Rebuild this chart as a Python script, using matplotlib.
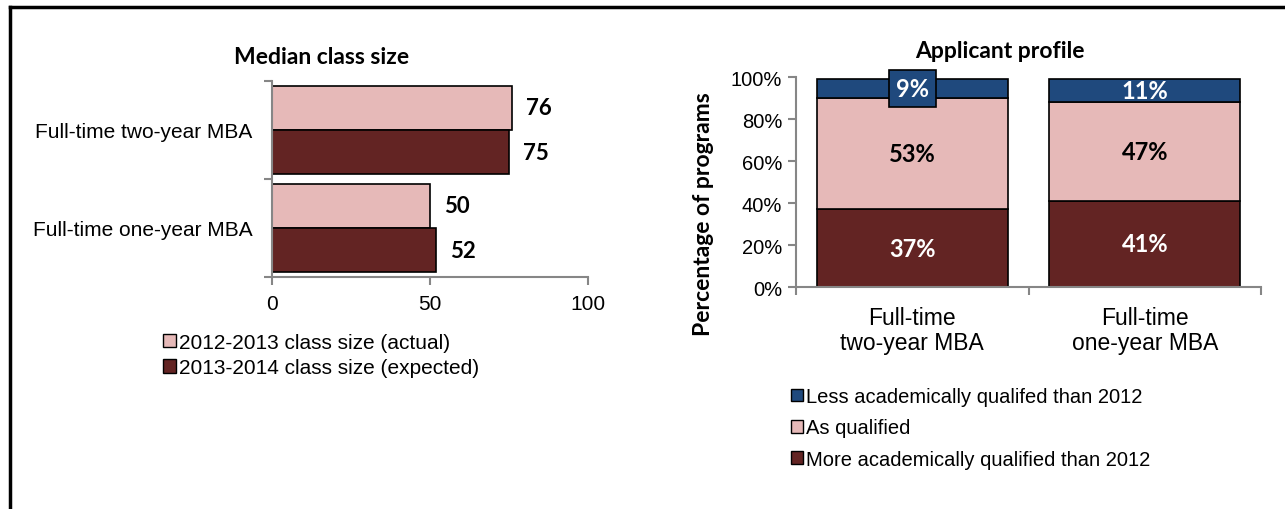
import numpy as np
import matplotlib.pyplot as plt
from matplotlib.lines import Line2D
from matplotlib.patches import Patch

# median class size
programs = ["Full-time two-year MBA", "Full-time one-year MBA"]
size_2012 = [76, 50]
size_2013 = [75, 52]
size_labels = ["2012-2013 class size (actual)", "2013-2014 class size (expected)"]

# applicant profile (% of programs)
profile_cats = ["Full-time\ntwo-year MBA", "Full-time\none-year MBA"]
more_qual = [37, 41]
as_qual = [53, 47]
less_qual = [9, 11]
profile_labels = ["Less academically qualifed than 2012", "As qualified",
                  "More academically qualified than 2012"]

DARK = "#632423"
PINK = "#E6B9B8"
BLUE = "#1F497D"
GRAY = "#868686"
BODY = "Liberation Sans"
HEAD = "Lato"

W, H = 1285, 510
fig = plt.figure(figsize=(W / 100, H / 100), dpi=100)
fig.patch.set_facecolor("white")

def box(l, t, r, b):
    return [l / W, 1 - b / H, (r - l) / W, (b - t) / H]

# page frame (top and left rules)
fig.add_artist(Line2D([10 / W, 1], [1 - 8 / H] * 2, color="black", lw=2.5))
fig.add_artist(Line2D([10 / W] * 2, [0, 1 - 8 / H], color="black", lw=2.5))

def style_axis(ax):
    for s in ["top", "right"]:
        ax.spines[s].set_visible(False)
    for s in ["left", "bottom"]:
        ax.spines[s].set_color(GRAY)
        ax.spines[s].set_linewidth(1.5)

# ---- left: horizontal bars ----
ax1 = fig.add_axes(box(272, 82, 588, 278))
y = np.arange(len(programs))
h = 0.45
ax1.barh(y - h / 2, size_2012, height=h, color=PINK, edgecolor="black", lw=1.2)
ax1.barh(y + h / 2, size_2013, height=h, color=DARK, edgecolor="black", lw=1.2)
for i in range(len(programs)):
    ax1.text(size_2012[i] + 4.5, y[i] - h / 2, str(size_2012[i]), va="center",
             ha="left", fontsize=16, fontweight="bold", family=HEAD)
    ax1.text(size_2013[i] + 4.5, y[i] + h / 2, str(size_2013[i]), va="center",
             ha="left", fontsize=16, fontweight="bold", family=HEAD)
ax1.set_xlim(0, 100)
ax1.set_ylim(1.5, -0.5)
ax1.set_xticks([0, 50, 100])
ax1.set_yticks(y)
ax1.set_yticklabels(programs)
ax1.set_yticks([-0.5, 0.5, 1.5], minor=True)
ax1.tick_params(axis="y", which="major", length=0, pad=14)
ax1.tick_params(axis="y", which="minor", length=6, color=GRAY, width=1.5)
ax1.tick_params(axis="x", length=6, color=GRAY, width=1.5, pad=6)
for t in ax1.get_xticklabels() + ax1.get_yticklabels():
    t.set_fontsize(15)
    t.set_family(BODY)
style_axis(ax1)
fig.text(322 / W, 1 - 58 / H, "Median class size", ha="center", va="center",
         fontsize=16.5, fontweight="bold", family=HEAD)

h1 = [Patch(facecolor=PINK, edgecolor="black", lw=1),
      Patch(facecolor=DARK, edgecolor="black", lw=1)]
fig.legend(h1, size_labels, loc="upper left", bbox_to_anchor=(163 / W, 1 - 334 / H),
           frameon=False, handlelength=0.6, handleheight=0.6, handletextpad=0.15,
           labelspacing=0.3, borderpad=0, borderaxespad=0,
           prop={"family": BODY, "size": 15})

# ---- right: stacked columns ----
ax2 = fig.add_axes(box(796, 78, 1261, 288))
x = np.arange(len(profile_cats))
w = 0.82
b2 = np.array(more_qual) + np.array(as_qual)
ax2.bar(x, more_qual, width=w, color=DARK, edgecolor="black", lw=1.2)
ax2.bar(x, as_qual, width=w, bottom=more_qual, color=PINK, edgecolor="black", lw=1.2)
ax2.bar(x, less_qual, width=w, bottom=b2, color=BLUE, edgecolor="black", lw=1.2)
for i in range(len(profile_cats)):
    ax2.text(x[i], more_qual[i] / 2, f"{more_qual[i]}%", ha="center", va="center",
             color="white", fontsize=17, fontweight="bold", family=HEAD)
    ax2.text(x[i], more_qual[i] + as_qual[i] / 2, f"{as_qual[i]}%", ha="center",
             va="center", color="black", fontsize=17, fontweight="bold", family=HEAD)
    kw = {}
    if less_qual[i] < 10:
        kw["bbox"] = dict(boxstyle="square,pad=0.3", facecolor=BLUE,
                          edgecolor="black", lw=1.2)
    ax2.text(x[i], b2[i] + less_qual[i] / 2, f"{less_qual[i]}%", ha="center",
             va="center", color="white", fontsize=17, fontweight="bold",
             family=HEAD, **kw)
ax2.set_xlim(-0.5, 1.5)
ax2.set_ylim(0, 100)
ax2.set_yticks(range(0, 101, 20))
ax2.set_yticklabels([f"{v}%" for v in range(0, 101, 20)])
ax2.set_xticks(x)
ax2.set_xticklabels(profile_cats)
ax2.set_xticks([-0.5, 0.5, 1.5], minor=True)
ax2.tick_params(axis="x", which="major", length=0, pad=14)
ax2.tick_params(axis="x", which="minor", length=6, color=GRAY, width=1.5)
ax2.tick_params(axis="y", length=6, color=GRAY, width=1.5, pad=4)
for t in ax2.get_xticklabels() + ax2.get_yticklabels():
    t.set_family(BODY)
for t in ax2.get_xticklabels():
    t.set_fontsize(16.5)
    t.set_linespacing(1.1)
for t in ax2.get_yticklabels():
    t.set_fontsize(14.5)
style_axis(ax2)
fig.text(703 / W, 1 - 214 / H, "Percentage of programs", rotation=90,
         ha="center", va="center", fontsize=16.5, fontweight="bold", family=HEAD)
fig.text(1000 / W, 1 - 52 / H, "Applicant profile", ha="center", va="center",
         fontsize=16.5, fontweight="bold", family=HEAD)

h2 = [Patch(facecolor=BLUE, edgecolor="black", lw=1),
      Patch(facecolor=PINK, edgecolor="black", lw=1),
      Patch(facecolor=DARK, edgecolor="black", lw=1)]
fig.legend(h2, profile_labels, loc="upper left", bbox_to_anchor=(791 / W, 1 - 388 / H),
           frameon=False, handlelength=0.6, handleheight=0.6, handletextpad=0.15,
           labelspacing=0.62, borderpad=0, borderaxespad=0,
           prop={"family": BODY, "size": 14.5})

fig.savefig("out.png", dpi=100)
